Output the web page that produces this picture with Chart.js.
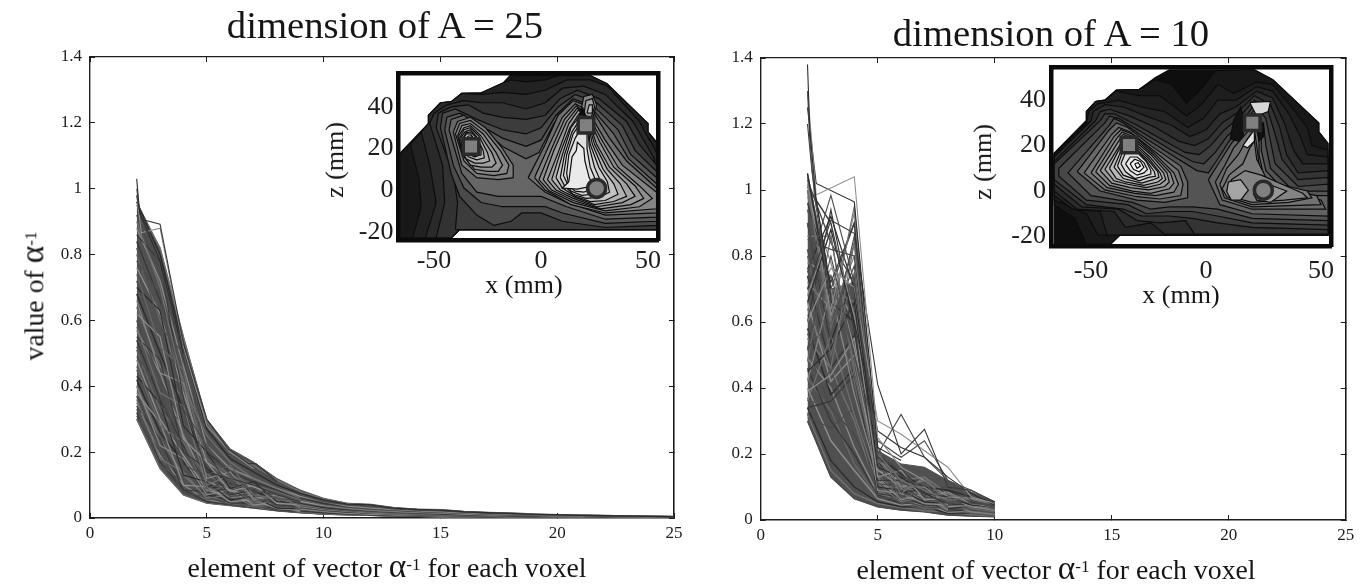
<!DOCTYPE html>
<html><head><meta charset="utf-8">
<script src="https://cdn.jsdelivr.net/npm/chart.js@4"></script>
<style>
html,body{margin:0;padding:0;background:#fff;width:1366px;height:585px;overflow:hidden}
canvas{position:absolute}
.t{position:absolute;transform:translate(-50%,-50%);font-family:"Liberation Serif",serif;color:#151515;white-space:nowrap;line-height:1}
.t sup{font-size:.62em;line-height:0;vertical-align:baseline;position:relative;top:-.42em}
.t .a{font-size:1.2em}
</style></head><body>
<canvas id="mainA" style="left:0;top:0"></canvas>
<canvas id="mainB" style="left:683px;top:0"></canvas>
<canvas id="mapA" style="left:330px;top:40px"></canvas>
<canvas id="mapB" style="left:985px;top:35px"></canvas>
<div class="t" style="left:385px;top:25px;font-size:38.7px">dimension of A = 25</div>
<div class="t" style="left:1051px;top:33px;font-size:38.7px">dimension of A = 10</div>
<div class="t" style="left:387px;top:566px;font-size:27.8px">element of vector <span class="a">α</span><sup>-1</sup> for each voxel</div>
<div class="t" style="left:1056px;top:568px;font-size:27.8px">element of vector <span class="a">α</span><sup>-1</sup> for each voxel</div>
<div class="t" style="left:32px;top:296px;font-size:27.8px;transform:translate(-50%,-50%) rotate(-90deg)">value of <span class="a">α</span><sup>-1</sup></div>
<div class="t" style="left:524px;top:285px;font-size:26px">x (mm)</div>
<div class="t" style="left:1181px;top:295px;font-size:26px">x (mm)</div>
<div class="t" style="left:335px;top:160px;font-size:26px;transform:translate(-50%,-50%) rotate(-90deg)">z (mm)</div>
<div class="t" style="left:983px;top:162px;font-size:26px;transform:translate(-50%,-50%) rotate(-90deg)">z (mm)</div>
<script>
const xTickLabels=['0','5','10','15','20','25'];
const yTickLabels=['0','0.2','0.4','0.6','0.8','1','1.2','1.4'];
const mapXTicks=['-50','0','50'];
const mapZTicks=['-20','0','20','40'];

const elementsA=[2,3,4,5,6,7,8,9,10,11,12,13,14,15,16,17,18,19,20,21,22,23,24,25];
const upperA=[.96,.82,.55,.30,.21,.17,.12,.085,.06,.045,.042,.032,.027,.026,.02,.017,.015,.012,.01,.009,.008,.007,.006,.005];
const lowerA=[.30,.15,.07,.045,.038,.03,.022,.016,.012,.01,.008,.006,.005,.004,.003,.003,.002,.002,.002,.001,.001,.001,.001,.001];
const seriesA=[
[.96,.80,.52,.27,.18,.14,.10,.075,.055,.042,.040,.030,.026,.024,.019,.016,.014,.011,.010,.008,.007,.006,.005,.004],
[.95,.82,.55,.29,.20,.16,.115,.08,.058,.044,.04,.031,.026,.025,.02,.017,.015,.012,.01,.009,.008,.006,.006,.005],
[.92,.74,.50,.24,.19,.155,.11,.07,.05,.04,.036,.028,.024,.022,.018,.015,.013,.011,.009,.008,.007,.006,.005,.004],
[.88,.72,.46,.22,.15,.12,.09,.066,.05,.036,.03,.026,.022,.019,.016,.013,.011,.01,.008,.007,.006,.005,.004,.004],
[.84,.66,.49,.20,.14,.11,.085,.06,.044,.034,.028,.024,.02,.018,.015,.012,.01,.009,.008,.006,.005,.005,.004,.003],
[.80,.60,.42,.18,.13,.10,.08,.056,.04,.032,.026,.022,.019,.016,.014,.011,.01,.008,.007,.006,.005,.004,.004,.003],
[.76,.62,.38,.17,.12,.095,.07,.05,.038,.03,.024,.02,.017,.015,.012,.01,.009,.008,.006,.005,.005,.004,.003,.003],
[.72,.54,.40,.16,.11,.09,.065,.048,.035,.028,.022,.018,.016,.014,.011,.01,.008,.007,.006,.005,.004,.004,.003,.002],
[.68,.50,.33,.15,.105,.08,.06,.045,.032,.026,.021,.017,.015,.012,.01,.009,.007,.006,.005,.005,.004,.003,.003,.002],
[.64,.46,.36,.13,.10,.075,.055,.04,.03,.024,.019,.016,.013,.011,.009,.008,.007,.006,.005,.004,.003,.003,.002,.002],
[.60,.42,.28,.12,.09,.07,.05,.038,.028,.022,.018,.015,.012,.01,.009,.007,.006,.005,.004,.004,.003,.002,.002,.002],
[.57,.44,.25,.11,.085,.065,.048,.035,.026,.02,.016,.013,.011,.009,.008,.007,.005,.005,.004,.003,.003,.002,.002,.001],
[.54,.36,.22,.10,.08,.06,.045,.032,.024,.018,.015,.012,.01,.008,.007,.006,.005,.004,.004,.003,.002,.002,.002,.001],
[.51,.33,.24,.09,.07,.055,.04,.03,.022,.017,.014,.011,.009,.008,.006,.006,.004,.004,.003,.003,.002,.002,.001,.001],
[.48,.30,.19,.085,.065,.05,.036,.027,.02,.015,.012,.01,.008,.007,.006,.005,.004,.003,.003,.002,.002,.002,.001,.001],
[.45,.32,.16,.08,.06,.048,.034,.025,.018,.014,.011,.009,.008,.006,.005,.005,.004,.003,.003,.002,.002,.001,.001,.001],
[.42,.26,.17,.07,.055,.042,.03,.022,.016,.013,.01,.008,.007,.006,.005,.004,.003,.003,.002,.002,.002,.001,.001,.001],
[.40,.24,.13,.065,.05,.04,.028,.02,.015,.012,.009,.008,.006,.005,.004,.004,.003,.003,.002,.002,.001,.001,.001,.001],
[.37,.22,.11,.06,.048,.036,.026,.019,.014,.011,.009,.007,.006,.005,.004,.003,.003,.002,.002,.002,.001,.001,.001,.001],
[.35,.19,.10,.055,.045,.034,.024,.018,.013,.01,.008,.007,.005,.004,.004,.003,.002,.002,.002,.001,.001,.001,.001,.001],
[.32,.17,.085,.05,.04,.032,.023,.017,.012,.01,.008,.006,.005,.004,.003,.003,.002,.002,.002,.001,.001,.001,.001,.001],
[.30,.15,.07,.045,.038,.03,.022,.016,.012,.01,.008,.006,.005,.004,.003,.003,.002,.002,.002,.001,.001,.001,.001,.001]
];
const strandsA=[
[.90,.70,.40,.25,.17,.12,.09,.06],
[.86,.78,.36,.14,.12,.10,.07,.05],
[.82,.58,.50,.19,.10,.09,.06,.05],
[.78,.68,.33,.22,.13,.08,.075,.045],
[.74,.52,.45,.13,.16,.07,.06,.04],
[.70,.63,.28,.20,.09,.11,.05,.045],
[.66,.44,.41,.12,.14,.06,.07,.035],
[.62,.55,.24,.17,.08,.10,.045,.04],
[.58,.38,.34,.10,.13,.055,.065,.03],
[.55,.48,.20,.15,.07,.085,.04,.035],
[.52,.34,.29,.09,.11,.05,.06,.028],
[.49,.40,.16,.13,.065,.075,.036,.03],
[.46,.28,.23,.08,.10,.045,.05,.025],
[.43,.35,.13,.11,.055,.065,.03,.028],
[.40,.22,.18,.07,.085,.04,.045,.02],
[.38,.29,.10,.095,.05,.055,.028,.024],
[.36,.18,.14,.06,.07,.036,.038,.018],
[.34,.24,.085,.08,.045,.045,.025,.02],
[.33,.16,.11,.055,.06,.032,.03,.017],
[.31,.2,.075,.065,.04,.038,.022,.018]
];
const strayA=[
[[2,1.03],[2.12,.93],[3,.78],[4,.5]],
[[2,1.0],[2.15,.92],[3,.76],[4,.47]],
[[2,.98],[2.2,.907],[3,.892],[4,.53],[5,.30],[5.9,.21],[6.8,.165],[7.1,.165],[8,.11]],
[[2,.98],[2.2,.866],[3,.88],[4,.52],[5,.28],[6,.20],[7,.15]]
];

const elementsB=[2,3,4,5,6,7,8,9,10];
const upperB=[1.05,.70,.72,.21,.17,.16,.12,.085,.055];
const lowerB=[.30,.13,.065,.04,.03,.025,.015,.012,.01];
const seriesB=[
[1.05,.66,.60,.20,.14,.10,.09,.07,.055],
[1.04,.70,.66,.18,.12,.13,.08,.06,.05],
[1.03,.84,.72,.16,.15,.09,.10,.05,.045],
[1.02,.62,.80,.19,.10,.12,.07,.065,.05],
[1.01,.90,.58,.14,.13,.08,.09,.055,.04],
[1.00,.58,.84,.17,.09,.11,.06,.07,.045],
[.98,.78,.52,.15,.12,.07,.085,.05,.04],
[.94,.70,.90,.13,.10,.10,.055,.06,.035],
[.90,.54,.74,.18,.085,.09,.07,.045,.04],
[.86,.86,.46,.12,.11,.065,.08,.05,.03],
[.82,.50,.68,.14,.08,.085,.05,.055,.035],
[.78,.74,.60,.11,.095,.06,.07,.04,.03],
[.74,.46,.56,.13,.07,.08,.045,.05,.03],
[.70,.66,.42,.10,.09,.055,.06,.035,.025],
[.66,.42,.50,.12,.065,.07,.04,.045,.028],
[.62,.58,.36,.09,.08,.05,.055,.03,.022],
[.58,.38,.46,.11,.06,.065,.035,.04,.025],
[.55,.46,.30,.085,.07,.045,.05,.028,.02],
[.52,.34,.26,.10,.055,.06,.03,.035,.022],
[.49,.40,.22,.08,.065,.04,.045,.025,.018],
[.46,.30,.20,.075,.05,.055,.028,.03,.02],
[.43,.33,.17,.07,.06,.035,.04,.022,.016],
[.40,.24,.15,.065,.045,.05,.024,.026,.018],
[.37,.27,.12,.06,.05,.032,.035,.02,.014],
[.34,.18,.10,.055,.04,.04,.02,.022,.015],
[.32,.15,.08,.05,.038,.028,.025,.016,.012],
[.30,.13,.065,.04,.03,.025,.015,.012,.01]
];
const strandsB=[
[1.0,.60,.95,.20,.12,.09,.06],
[.96,.72,.90,.19,.14,.08,.07],
[.90,.55,.86,.22,.11,.11,.05],
[.85,.82,.80,.18,.16,.07,.06],
[.80,.50,.75,.21,.09,.12,.06],
[.76,.92,.70,.16,.13,.08,.05],
[.72,.64,.93,.15,.10,.10,.045],
[.68,.88,.62,.13,.15,.06,.07],
[.64,.46,.84,.19,.08,.13,.05],
[.60,.94,.58,.12,.12,.07,.06],
[.56,.74,.50,.17,.07,.10,.04],
[.52,.60,.77,.11,.10,.06,.055],
[.48,.86,.44,.14,.065,.09,.035],
[.45,.52,.66,.10,.09,.055,.05],
[.42,.70,.38,.13,.06,.08,.03],
[.39,.44,.55,.09,.08,.05,.045],
[.36,.56,.32,.11,.055,.07,.028],
[.34,.36,.44,.08,.07,.045,.04],
[.32,.46,.24,.10,.05,.06,.025],
[.31,.28,.34,.07,.06,.04,.035]
];
const strayB=[
[[2,1.38],[2.1,1.18],[2.35,.98],[3,.7]],
[[2,1.3],[2.1,1.15],[2.3,.98],[3,.66]],
[[2,1.2],[2.2,1.05],[3,.68]],
[[2,1.3],[2.37,.985],[4,1.04],[5,.25],[6,.16],[7,.12]],
[[2,1.25],[2.37,1.02],[4,.964],[5,.22],[6,.18]],
[[2,.75],[3,.984],[4,.72],[5,.20],[6,.32],[7,.19],[8,.12],[9,.09],[10,.05]],
[[2,.70],[3,.908],[4,.869],[5,.41],[6,.20],[7,.275],[8,.10],[9,.09],[10,.055]],
[[2,.60],[3,.763],[4,.705],[5,.30],[6,.26],[7,.21],[8,.16],[9,.07],[10,.05]],
[[2,.66],[3,.88],[4,.60],[5,.27],[6,.22],[7,.19],[8,.13],[9,.08],[10,.045]],
[[2,.52],[3,.80],[4,.50],[5,.24],[6,.19],[7,.24],[8,.12],[9,.06],[10,.04]]
];

/* Inset A: contour level (grey value) and outline in mm, x then z */
const levelsMapA=[24,34,42,50,60,74,88,102,122,134,146,158,170,182,192,202,212,222,112,132,142,152,164,178,195,205,215,224,234,130,160,190,15];
const ringsMapA=[
[-66,17.6,-52.6,32,-52.6,36,-47.2,41.7,-41.7,42.5,-37,46.5,-27.7,46.8,-17.6,51.6,-14.5,55,23,55,30.7,51.3,50,32,50,28,54,23,54,-19,-38,-19,-42,-23,-66,-23],
[-60,-23,-56,-8,-57,5,-61,22,-52.6,32,-52.6,36,-47,42,-42,42.5,-37,46.5,-28,46.8,-17.6,51.6,-14,53,-7,52,2,53,8,55,23,55,31,51,50,32,50,28,54,23,54,-19,-38,-19,-42,-23],
[-54,-23,-49,-6,-52,12,-56,28,-52.6,32,-52.6,36,-47,42,-42,42.5,-37,46.5,-28,46,-18,47,-7,46,2,48,12,53,23,53,31,50,46,33,49,27,52,22,54,18,54,-19,-38,-19,-42,-23],
[-49,-23,-45,-6,-46,12,-52,32,-50,37,-44,41,-36,43,-28,42,-18,42,-7,39,2,42,10,49,20,50,30,46,43,33,48,24,53,15,54,-19,-38,-19,-42,-23],
[-40,-19,-39,-6,-41,8,-49,30,-48,37,-42,40,-34,41,-27,37,-18,35,-7,34,2,36,9,44,17,48,27,44,40,33,46,22,54,12,54,-19],
[-47,30,-46,37,-40,39,-30,34,-18,29,-7,27,0,30,8,40,16,46,26,42,38,31,44,19,54,9,54,-17,30,-18,10,-15,0,-11,-9,-11,-14,-15,-22,-17,-30,-12,-38,-3,-42,8],
[-45,29,-44,35,-38,37,-30,32,-18,25,-7,21,0,24,7,36,15,44,25,40,36,29,42,17,54,6,54,-15,30,-16,10,-11,2,-8,-9,-8,-18,-8,-28,-6,-36,1,-41,12],
[-43,29,-42,34,-36,36,-28,30,-18,21,-7,15,-1,18,6,32,14,42,24,39,34,27,41,15,54,3,54,-13,30,-14,12,-8,0,-3,-9,-3,-20,-3,-30,-1,-37,8],
[-41,28,-39,33,-33,35,-26,30,-18,20,-13,12,-13,6,-20,5,-30,6,-37,12],
[-40,27,-38,32,-33,33.5,-26,28,-19,19,-15,12,-16,8,-22,7,-30,8,-36,14],
[-39,26,-37,31,-33,32,-27,27,-21,18,-18,12,-20,9,-25,9,-31,10,-36,16],
[-38.5,26,-36,30,-33,31,-28,26,-23,18,-21,13,-23,11,-28,11,-33,12,-37,18],
[-38,25,-36,29,-33,30,-29,26,-25,18,-24,14,-27,13,-31,13,-35,15,-37.5,20],
[-37.5,25,-35.5,28,-33,29,-30,25.5,-27,19,-26.5,15.5,-30,14.5,-34,16,-37,20],
[-37,24,-35,27.5,-33,28,-30,25,-28,20,-28,17,-31,16,-34.5,17.5,-36.5,20],
[-36.5,24,-35,27,-33,27,-31,24,-29,20,-29.5,18,-32,17,-35,18.5],
[-36,23.5,-34,26,-32.5,26,-30.5,23,-30,20,-31,18.5,-34,18.5,-35.5,20],
[-35,23,-33.5,25,-32,24.5,-31,21.5,-32,19.5,-34,19.5],
[-6,6,2,22,8,36,15,43,23,40,32,25,40,14,54,1,54,-11,30,-12,12,-6,2,-1],
[-3,6,4,22,10,35,16,41.5,22,38,30,24,38,12,54,-1,54,-9,30,-11,14,-7,2,0],
[-1,5,5,20,11,34,16.5,40.5,22,36,29,23,36,11,46,2,52,-4,46,-8,30,-10,15,-6,4,-.5],
[1,5,6,19,12,33,17,39.5,22,35,27.5,23,34,11,44,2,48,-4,42,-7,28,-9,15,-5,5,0],
[3,5,8,18,13,32,17.5,38.5,22,34,26,22,32,11,40,3,44,-3,38,-6,26,-8,15,-4,7,0],
[5,5,9,18,13.5,30,18,37,22,33,25,22,31,10,37,3,40,-3,34,-5.5,25,-7,16,-3.5,9,0],
[7,6,10,17,14,30,18,35.5,22,32,24,22,29,10,34,3,36,-2,30,-5,23,-5.5,16,-3,10,1],
[9,6,11,17,14.5,28,18.5,34.5,22,30,23,22,27,11,31,4,32,-1,27,-3.5,21,-4,15,-2,11,2],
[10.5,7,12,17,15,27,19,33,22,29,22.5,21,25,11,28,4,28,0,24,-2,19,-2.5,14,-.5],
[12,8,13,17,16,25,19.5,31,21.5,27,21.5,20,23,11,25,6,24,1,20,-1,16,-.5,13,2],
[13,4,14.5,16,16.5,19,17,23,20,20,20.5,14,22.5,6,24.5,2,17,.5,10,1],
[18,35,20,45,24,46,26,41,24,34],
[20,36,21,43,24,44,25,40,23.5,35],
[21.5,37,22.5,41,24,41,24,37],
[18,36,19.5,39.5,20.8,36]
];
const squareA=[[-32.7,21],[21,31.2]];
const circleA=[[26,.8]];

/* Inset B */
const levelsMapB=[14,24,30,36,44,52,62,72,84,104,116,128,140,155,170,185,198,210,222,234,244,250,98,106,114,122,132,165,150,18,18,225,215];
const ringsMapB=[
[-66,16.6,-52,31,-52,35,-48,39.4,-44,40,-39,44.5,-29,44.8,-22,50,-16,53.4,21,53.4,29,49,49,30,49,26,53,21,53,-19.4,-37.4,-19.4,-41.5,-23.4,-66,-23.4],
[-52,-23.4,-57,-12,-66,-6,-66,16.6,-52,31,-52,35,-48,39.4,-44,40,-39,44.5,-29,44.8,-22,49,-15,47,-8.5,38.7,-2,45,4,53,21,53.4,29,49,49,30,49,26,53,21,53,-19.4,-37.4,-19.4,-41.5,-23.4],
[-47,-19.4,-52,-10,-66,-4,-66,16.6,-52,31,-52,35,-48,39.4,-44,40,-39,44,-29,42,-20,42,-8.5,33,-2,38,5,47,12,43,22,48,29,47,38,36,44,28,46,20,53,18,53,-19.4],
[-43,-19.4,-46,-9,-58,-8,-66,-2,-66,16,-52,30,-51,35,-47,38.5,-43,39,-38,40,-28,37,-18,35,-8,28,-1,32,5,40,13,40,22,46,29,44,36,34,41,24,44,16,53,15,53,-19.4],
[-35,-16,-40,-9,-56,-8,-66,0,-66,15,-50,31,-49,35,-44,38,-36,37,-26,33,-15,29,-7,24,0,27,6,34,13,37,22,44,29,41,34,30,38,18,42,12,53,12,53,-19,-18,-19,-24,-14],
[-30,-13,-38,-8,-54,-7,-66,3,-66,13,-48,31,-46,35,-42,36,-33,33,-22,28,-12,22,-5,20,1,23,7,30,13,34,21,42,28,38,32,28,35,16,40,8,53,9,53,-19,-5,-19,-9,-13,-20,-14],
[-28,-11,-36,-8,-52,-6,-66,5,-66,12,-46,31,-44,34,-40,34,-30,29,-18,22,-9,17,-3,16,2,20,8,27,14,32,21,40,27,35,30,25,33,14,40,5,53,6,53,-17,20,-16,5,-14,-6,-12,-16,-11],
[-26,-10,-34,-6,-52,-4,-64,6.5,-64,10,-44,30,-42,33,-38,32,-28,26,-15,18,-6,13,-1,12,4,17,9,24,15,30,21,38,26,32,28,22,30,12,40,2,53,3,53,-15,20,-14,5,-11,-6,-9,-16,-9],
[-24,-8,-32,-5,-50,-2,-60,8,-42,29,-40,32,-36,30,-26,23,-12,14,-4,9,1,8,5,14,10,22,16,29,21,36,25,29,26,20,28,10,38,0,53,0,53,-13,20,-12,5,-8,-6,-7,-16,-7],
[-56,8.5,-42,27,-39,30,-34,28,-24,20,-11,11,-8,4,-8,-3,-18,-5,-30,-4,-46,0],
[-53,8,-41,25,-38,28,-33,26,-23,18,-12,9,-10,3,-11,-2,-20,-3.5,-30,-2.5,-44,.5],
[-50,8,-40,24,-37,27,-32,25,-23,17,-14,8,-12,3,-14,-.5,-22,-2,-31,-1,-43,1.5],
[-48,8.5,-39,23,-36.5,26,-32,24,-23,16,-15.5,8,-14,3.5,-16,1,-24,-1,-32,0,-42,2.5],
[-46,9,-38,22,-36,25,-32,23,-24,16,-17,8,-16,4,-18,2,-25,.5,-33,1.5,-41,3.5],
[-44,9.5,-37,21,-35.5,24,-32,22,-24.5,15,-18.5,8,-17.5,5,-20,3,-26,1.5,-34,3,-40,4.5],
[-42,10,-37,20,-35,23,-32,21,-25,14.5,-20,8,-19,5.5,-21,4,-27,2.5,-35,4,-39,5.5],
[-40,10.5,-36,20,-34,22,-32,20,-25.5,14,-21,8.5,-20.5,6,-23,5,-28,3.5,-36,5.5],
[-38.5,11,-36,18,-34,20,-31,19,-26,13.5,-22.5,8.5,-22,6.5,-25,6,-29,4.5,-36,7],
[-37,12,-35,17,-33,18,-30,17,-26,13,-24,9,-24,7.5,-27,6.5,-31,5.5,-35,8.5],
[-35,12,-33,15,-30,15,-27,12.5,-25.5,9.5,-27,8,-30,7,-33,9],
[-33,12,-31,14,-28.5,13,-27,10.5,-29,8.5,-31.5,9.5],
[-31,12,-29.5,12.5,-28.5,11,-30,10],
[1,5,6,13,11,21,17,28,21,34,24,27,24,18,26,9,36,-2,53,-2,53,-11,20,-10,6,-6],
[4,4,8,11,12,19,18,26,21,30,23,24,23,16,25,7,34,-1,50,-4,52,-8,20,-8,7,-4],
[6,3,9,10,14,16,18,23,21,27,22,20,23,12,26,5,32,1,48,-2,50,-6,20,-7,8,-3],
[7,1,10,7,16,12,19,19,21,22,22,14,26,6,32,3,44,0,46,-3,36,-5,20,-6,9,-2.5],
[9,0,11,5,17,9,24,7,33,3,42,-1,44,-3,34,-4,20,-5,11,-2.5],
[9.7,4,15,5,18.4,.4,15,-4,11,-4,9,-.3],
[20.5,-1,27,3,35,0,28,-5,22,-4],
[10.5,23,12,31,15,37,17,30,16,24,14,22],
[22,27,25,30,25,24,23,22],
[16,20,21,27,21,22,18,19],
[19,39,28,39.5,27,35,22,33]
];
const squareB=[[-33.5,20.3],[20.1,30.1]];
const circleB=[[24.9,.4]];

const traceGreys=['#2c2c2c','#707070','#4a4a4a','#888888','#383838','#666666','#8e8e8e','#505050'];

function axisBox(pos,min,max,step,size,labels,color,width,tick,font,pad,showLabels){
  return {type:'linear',position:pos,min,max,
    afterFit(s){ if(pos==='left'||pos==='right') s.width=size; else s.height=size; },
    border:{display:true,color,width},
    grid:{drawOnChartArea:false,drawTicks:tick!==0,tickLength:-tick,color,lineWidth:1},
    ticks:{display:showLabels,stepSize:step,autoSkip:false,maxRotation:0,padding:pad+tick,color:'#1c1c1c',
      font:{family:'"Liberation Serif",serif',size:font},callback:(v,i)=>labels?labels[i]:''}};
}
function mainChart(id,w,box,xs,series,strands,strays,upper,lower){
  const toPts=a=>a.map((v,i)=>({x:xs[i],y:v}));
  const ds=[];
  strays.forEach((s,i)=>ds.push({data:s.map(p=>({x:p[0],y:p[1]})),borderColor:traceGreys[i*2%8],borderWidth:1.1,pointRadius:0,tension:0,showLine:true}));
  strands.forEach((s,i)=>ds.push({data:toPts(s),borderColor:traceGreys[(i*3+1)%8],borderWidth:1.2,pointRadius:0,tension:0,showLine:true}));
  series.forEach((s,i)=>ds.push({data:toPts(s),borderColor:traceGreys[i%8],borderWidth:1.4,pointRadius:0,tension:0,showLine:true}));
  ds.push({data:toPts(upper),borderColor:'#505050',borderWidth:1,backgroundColor:'#505050',fill:'+1',pointRadius:0,tension:0,showLine:true});
  ds.push({data:toPts(lower),borderColor:'#444',borderWidth:1,pointRadius:0,tension:0,showLine:true});
  const el=document.getElementById(id); el.width=w; el.height=585;
  return new Chart(el,{type:'scatter',data:{datasets:ds},options:{responsive:false,animation:false,
    layout:{padding:0},plugins:{legend:{display:false},tooltip:{enabled:false}},
    scales:{
      x:axisBox('bottom',0,25,5,585-box.b,xTickLabels,'#1e1e1e',1.4,5,17,5,true),
      y:axisBox('left',0,1.4,.2,box.l,yTickLabels,'#1e1e1e',1.4,5,17,8,true),
      xTop:axisBox('top',0,25,5,box.t,null,'#1e1e1e',1.2,5,17,0,false),
      yRight:axisBox('right',0,1.4,.2,w-box.r,null,'#1e1e1e',1.6,5,17,0,false)
    }}});
}
function mapChart(id,w,h,box,rng,levels,rings,squares,circles){
  const ds=[];
  squares.forEach(p=>ds.push({data:[{x:p[0],y:p[1]}],pointStyle:'rect',pointRadius:11,borderWidth:3.5,borderColor:'#2a2a2a',backgroundColor:'#808080',showLine:false}));
  circles.forEach(p=>ds.push({data:[{x:p[0],y:p[1]}],pointStyle:'circle',pointRadius:9,borderWidth:3.5,borderColor:'#2a2a2a',backgroundColor:'#808080',showLine:false}));
  for(let i=rings.length-1;i>=0;i--){
    const r=rings[i],pts=[];
    for(let k=0;k<r.length;k+=2) pts.push({x:r[k],y:r[k+1]});
    pts.push({x:r[0],y:r[1]});
    const g=levels[i];
    ds.push({data:pts,showLine:true,fill:'shape',backgroundColor:`rgb(${g},${g},${g})`,borderColor:'#0c0c0c',borderWidth:1.2,pointRadius:0,tension:0});
  }
  const el=document.getElementById(id); el.width=w; el.height=h;
  return new Chart(el,{type:'scatter',data:{datasets:ds},options:{responsive:false,animation:false,
    layout:{padding:0},plugins:{legend:{display:false},tooltip:{enabled:false}},
    scales:{
      x:{...axisBox('bottom',rng[0],rng[1],50,h-box.b,mapXTicks,'#0a0a0a',4.5,0,26,box.pad,true),
         afterBuildTicks(s){s.ticks=[{value:-50},{value:0},{value:50}];}},
      y:{...axisBox('left',rng[2],rng[3],20,box.l,mapZTicks,'#0a0a0a',4.5,0,26,5,true),
         afterBuildTicks(s){s.ticks=[{value:-20},{value:0},{value:20},{value:40}];}},
      xTop:axisBox('top',rng[0],rng[1],50,box.t,null,'#0a0a0a',4.5,0,26,0,false),
      yRight:axisBox('right',rng[2],rng[3],20,w-box.r,null,'#0a0a0a',4.5,0,26,0,false)
    }}});
}
mainChart('mainA',700,{l:90,r:674,t:57,b:518},elementsA,seriesA,strandsA,strayA,upperA,lowerA);
mainChart('mainB',683,{l:77.7,r:662.7,t:58,b:520},elementsB,seriesB,strandsB,strayB,upperB,lowerB);
mapChart('mapA',345,250,{l:68.5,r:328.7,t:33,b:200,pad:6},[-66.6,55,-24,56.3],levelsMapA,ringsMapA,squareA,circleA);
mapChart('mapB',375,250,{l:66,r:346,t:32.5,b:211,pad:10},[-67.4,54.3,-24.2,54.4],levelsMapB,ringsMapB,squareB,circleB);
</script>
</body></html>
